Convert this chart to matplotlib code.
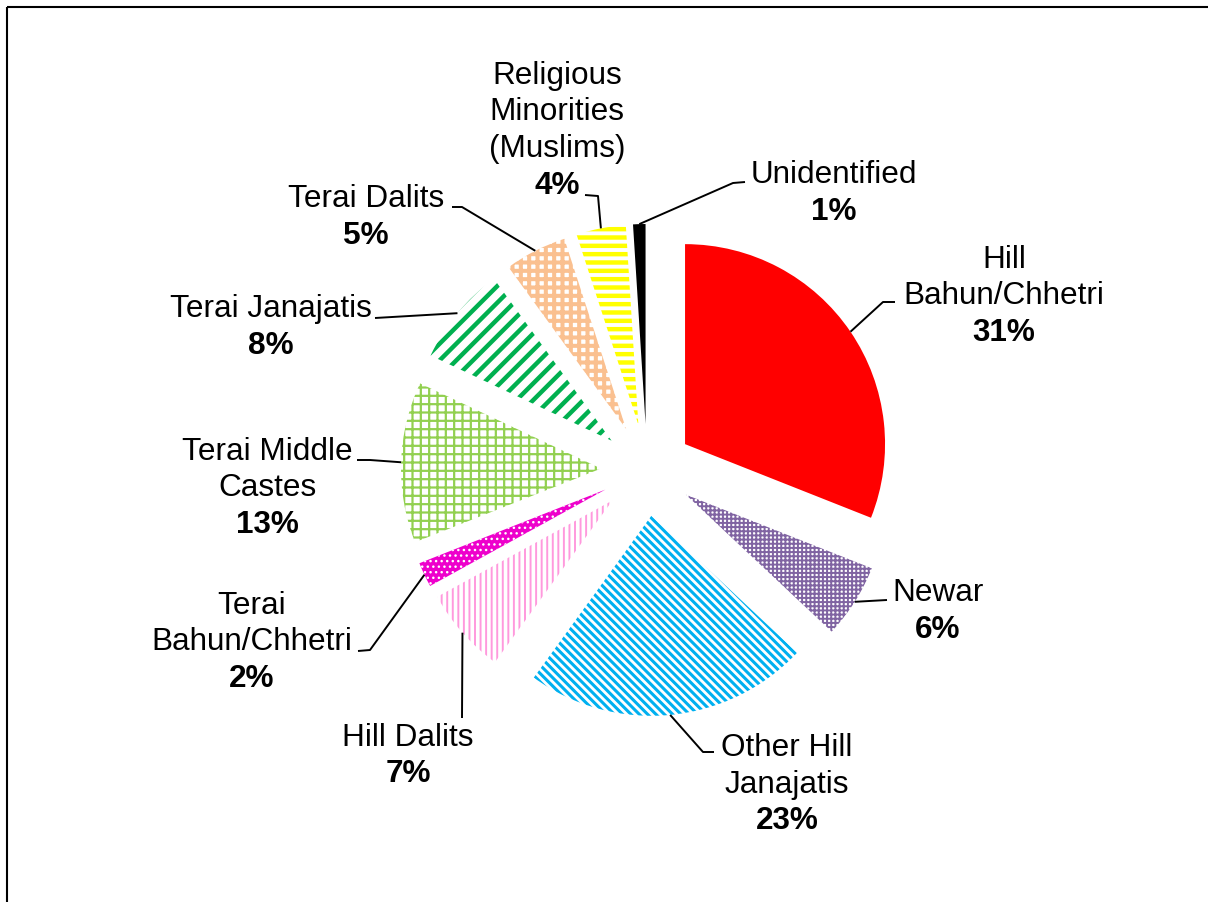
import matplotlib
matplotlib.use("Agg")
import matplotlib.pyplot as plt
from matplotlib.patches import Rectangle
import numpy as np

plt.rcParams['font.family'] = ['Liberation Sans', 'DejaVu Sans']

# shares of each group (%), clockwise from 12 o'clock
groups = [["Hill", "Bahun/Chhetri"], ["Newar"], ["Other Hill", "Janajatis"],
          ["Hill Dalits"], ["Terai", "Bahun/Chhetri"], ["Terai Middle", "Castes"],
          ["Terai Janajatis"], ["Terai Dalits"],
          ["Religious", "Minorities", "(Muslims)"], ["Unidentified"]]
shares = [31, 6, 23, 7, 2, 13, 8, 5, 4, 1]

# fill styles: face, hatch colour, hatch, hatch width (pt)
faces = ['#ff0000', 'white', 'white', 'white', '#ee00cc', 'white', 'white', 'white', 'white', '#000000']
hatch_cols = ['#ff0000', '#8064a2', '#00b0f0', '#ff99dd', 'white', '#92d050', '#00b050', '#fac090', '#ffff00', '#000000']
hatches = [None, '++++', '\\\\\\\\', '|||', '...', '++', '//', '++', '--', None]
hatch_lw = [1, 1.4, 2.2, 1.4, 1, 1.6, 3.2, 2.9, 3.2, 1]

# label placement in pixels: text centre x, first line y, leader path to the wedge
label_x = [1004, 938, 787, 408, 252, 267, 271, 366, 557, 834]
label_y = [257, 590, 745, 735, 603, 449, 306, 196, 73, 172]
leaders = [[(895, 302), (883, 302)],
           [(887, 600)],
           [(714, 752), (703, 752)],
           [(462, 718)],
           [(358, 651), (370, 650)],
           [(357, 460), (370, 460)],
           [(375, 318)],
           [(452, 207), (462, 207)],
           [(585, 195), (598, 196)],
           [(745, 182), (733, 183)]]

W, H = 1208, 902
fig = plt.figure(figsize=(W / 100, H / 100), dpi=100)
ax = fig.add_axes([0, 0, 1, 1])

radius = 200
center = (647, 470)
# explode is an absolute offset here (pixels)
wedges, _ = ax.pie(shares, radius=radius, center=center, startangle=-90,
                   counterclock=True, explode=[46] * len(shares),
                   colors=faces)

for w, fc, hc, ht, hl in zip(wedges, faces, hatch_cols, hatches, hatch_lw):
    w.set_facecolor(fc)
    w.set_edgecolor(hc)
    w.set_linewidth(0)
    if ht:
        w.set_hatch(ht)
        if hasattr(w, 'set_hatch_linewidth'):
            w.set_hatch_linewidth(hl)

ax.set_xlim(0, W)
ax.set_ylim(H, 0)
ax.set_aspect('equal')
ax.axis('off')

fs = 22.7
step = 36.5
for w, name, pct, x, y, path in zip(wedges, groups, shares, label_x, label_y, leaders):
    mid = np.deg2rad((w.theta1 + w.theta2) / 2)
    ax_, ay_ = w.center[0] + w.r * np.cos(mid), w.center[1] + w.r * np.sin(mid)
    pts = path + [(ax_, ay_)]
    ax.plot([p[0] for p in pts], [p[1] for p in pts], color='black', lw=1.4,
            solid_capstyle='butt', zorder=3)
    for i, line in enumerate(name):
        ax.text(x, y + i * step + 11, line, ha='center', va='baseline', fontsize=fs)
    ax.text(x, y + len(name) * step + 11, f"{pct}%", ha='center', va='baseline',
            fontsize=fs, fontweight='bold')

# chart area border
ax.add_patch(Rectangle((7, 7), W, H, fill=False, edgecolor='black', lw=1.5, clip_on=False))

fig.savefig('out.png', dpi=100)
